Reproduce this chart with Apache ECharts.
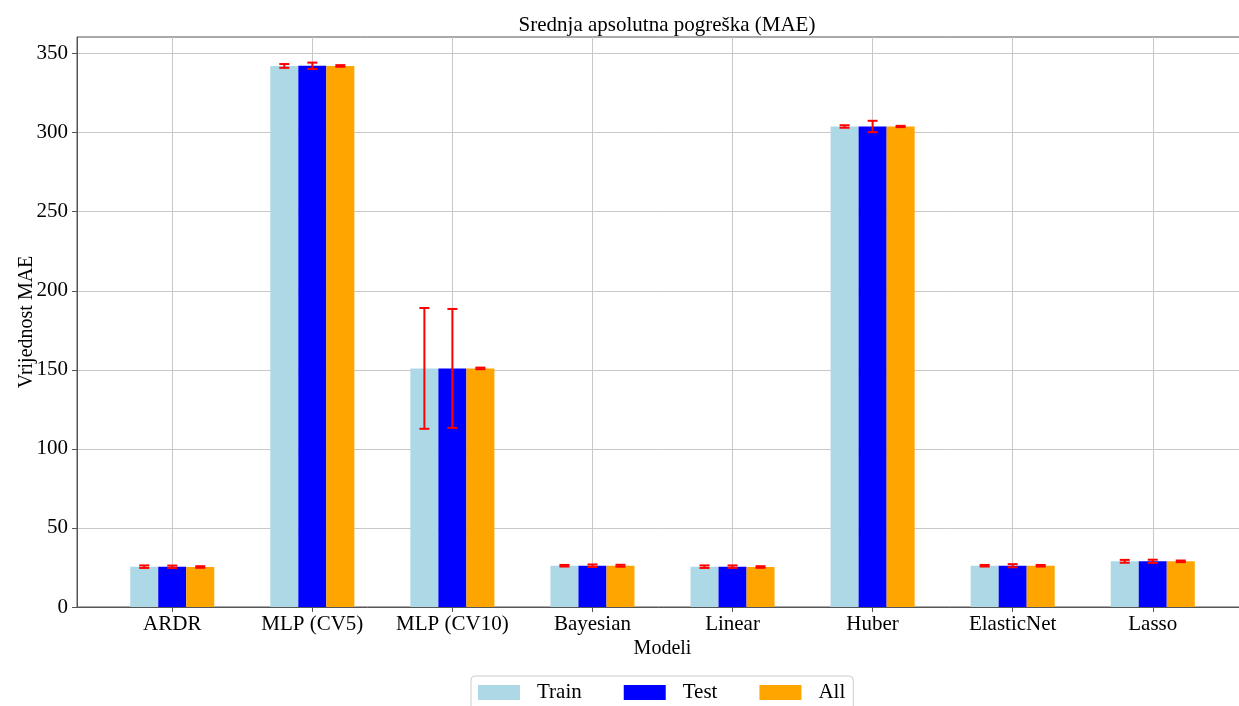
<!DOCTYPE html>
<html>
<head>
<meta charset="utf-8">
<script src="https://cdn.jsdelivr.net/npm/echarts@6/dist/echarts.min.js"></script>
<style>html,body{margin:0;padding:0;background:#fff}#chart{width:1239px;height:706px}</style>
</head>
<body>
<div id="chart"></div>
<script>
const categories = ['ARDR', 'MLP (CV5)', 'MLP (CV10)', 'Bayesian', 'Linear', 'Huber', 'ElasticNet', 'Lasso'];
const trainMAE = [25.5, 342.2, 150.9, 26.1, 25.5, 303.9, 26.1, 28.9];
const testMAE  = [25.4, 342.3, 150.9, 26.1, 25.5, 303.9, 26.1, 28.9];
const allMAE   = [25.3, 342.2, 150.9, 26.1, 25.3, 303.9, 26.1, 28.9];
const trainErr = [0.8, 1.2, 38.2, 0.5, 0.8, 0.8, 0.5, 0.9];
const testErr  = [0.8, 2.0, 37.6, 0.8, 0.8, 3.6, 1.0, 1.0];
const allErr   = [0.5, 0.5, 0.5, 0.6, 0.5, 0.4, 0.5, 0.5];
const seriesNames = ['Train', 'Test', 'All'];
const yTicks = [0, 50, 100, 150, 200, 250, 300, 350];

const FONT = 'Liberation Serif';
const colors = ['#add8e6', '#0000ff', '#ffa500'];
const values = [trainMAE, testMAE, allMAE];
const errors = [trainErr, testErr, allErr];
const offsets = [-0.2, 0, 0.2];
const BW = 0.2;

function barSeries(k) {
  return {
    type: 'custom',
    name: seriesNames[k],
    itemStyle: { color: colors[k] },
    data: values[k].map((v, i) => [i, v]),
    encode: { x: 0, y: 1 },
    z: 2,
    renderItem: function (params, api) {
      const x = api.value(0) + offsets[k];
      const v = api.value(1);
      const p0 = api.coord([x - BW / 2, v]);
      const p1 = api.coord([x + BW / 2, 0]);
      return {
        type: 'rect',
        shape: { x: p0[0], y: p0[1], width: p1[0] - p0[0], height: p1[1] - p0[1] },
        style: { fill: colors[k] }
      };
    }
  };
}

function errSeries(k) {
  return {
    type: 'custom',
    name: seriesNames[k] + ' err',
    data: values[k].map((v, i) => [i, v, errors[k][i]]),
    encode: { x: 0, y: 1 },
    z: 5,
    renderItem: function (params, api) {
      const x = api.value(0) + offsets[k];
      const v = api.value(1);
      const e = api.value(2);
      const top = api.coord([x, v + e]);
      const bot = api.coord([x, v - e]);
      const cw = 5;
      const st = { stroke: '#ff0000', lineWidth: 2, fill: null };
      return {
        type: 'group',
        children: [
          { type: 'line', shape: { x1: top[0], y1: top[1], x2: bot[0], y2: bot[1] }, style: st },
          { type: 'line', shape: { x1: top[0] - cw, y1: top[1], x2: top[0] + cw, y2: top[1] }, style: st },
          { type: 'line', shape: { x1: bot[0] - cw, y1: bot[1], x2: bot[0] + cw, y2: bot[1] }, style: st }
        ]
      };
    }
  };
}

const chart = echarts.init(document.getElementById('chart'), null, { renderer: 'canvas' });
chart.setOption({
  animation: false,
  backgroundColor: '#ffffff',
  textStyle: { fontFamily: FONT },
  title: {
    text: 'Srednja apsolutna pogreška (MAE)',
    left: 662, textAlign: 'center', top: 10,
    textStyle: { fontFamily: FONT, fontSize: 21, fontWeight: 'normal', color: '#000' }
  },
  legend: {
    data: seriesNames,
    left: 471, top: 676,
    icon: 'rect', itemWidth: 42, itemHeight: 15, itemGap: 42,
    borderColor: '#cccccc', borderWidth: 1, borderRadius: 4,
    padding: [6, 8, 8, 7],
    textStyle: { fontFamily: FONT, fontSize: 21, color: '#000', padding: [0, 0, 0, 12] }
  },
  grid: {
    left: 77, top: 37, width: 1171, height: 570,
    outerBoundsMode: 'none', containLabel: false,
    show: true, borderColor: '#555', borderWidth: 1, backgroundColor: 'transparent'
  },
  xAxis: {
    type: 'value', min: -0.68, max: 7.68,
    name: 'Modeli', nameLocation: 'middle', nameGap: 32, nameMoveOverlap: false,
    nameTextStyle: { fontFamily: FONT, fontSize: 20, color: '#000' },
    axisLine: { show: true, onZero: false, lineStyle: { color: '#555', width: 1 } },
    axisTick: { show: true, length: 5, customValues: categories.map((c, i) => i), lineStyle: { color: '#555' } },
    axisLabel: {
      customValues: categories.map((c, i) => i), margin: 7,
      fontFamily: FONT, fontSize: 21, color: '#000',
      formatter: function (v) { return categories[Math.round(v)]; }
    },
    splitLine: { show: true, lineStyle: { color: '#c8c8c8', width: 1 } }
  },
  yAxis: {
    type: 'value', min: 0, max: 360.5,
    name: 'Vrijednost MAE', nameLocation: 'middle', nameGap: 40, nameMoveOverlap: false,
    nameTextStyle: { fontFamily: FONT, fontSize: 20, color: '#000' },
    axisLine: { show: true, onZero: false, lineStyle: { color: '#555', width: 1 } },
    axisTick: { show: true, length: 5, customValues: yTicks, lineStyle: { color: '#555' } },
    axisLabel: { customValues: yTicks, margin: 9, fontFamily: FONT, fontSize: 21, color: '#000' },
    splitLine: { show: true, lineStyle: { color: '#c8c8c8', width: 1 } }
  },
  series: [barSeries(0), barSeries(1), barSeries(2), errSeries(0), errSeries(1), errSeries(2)]
});
</script>
</body>
</html>
